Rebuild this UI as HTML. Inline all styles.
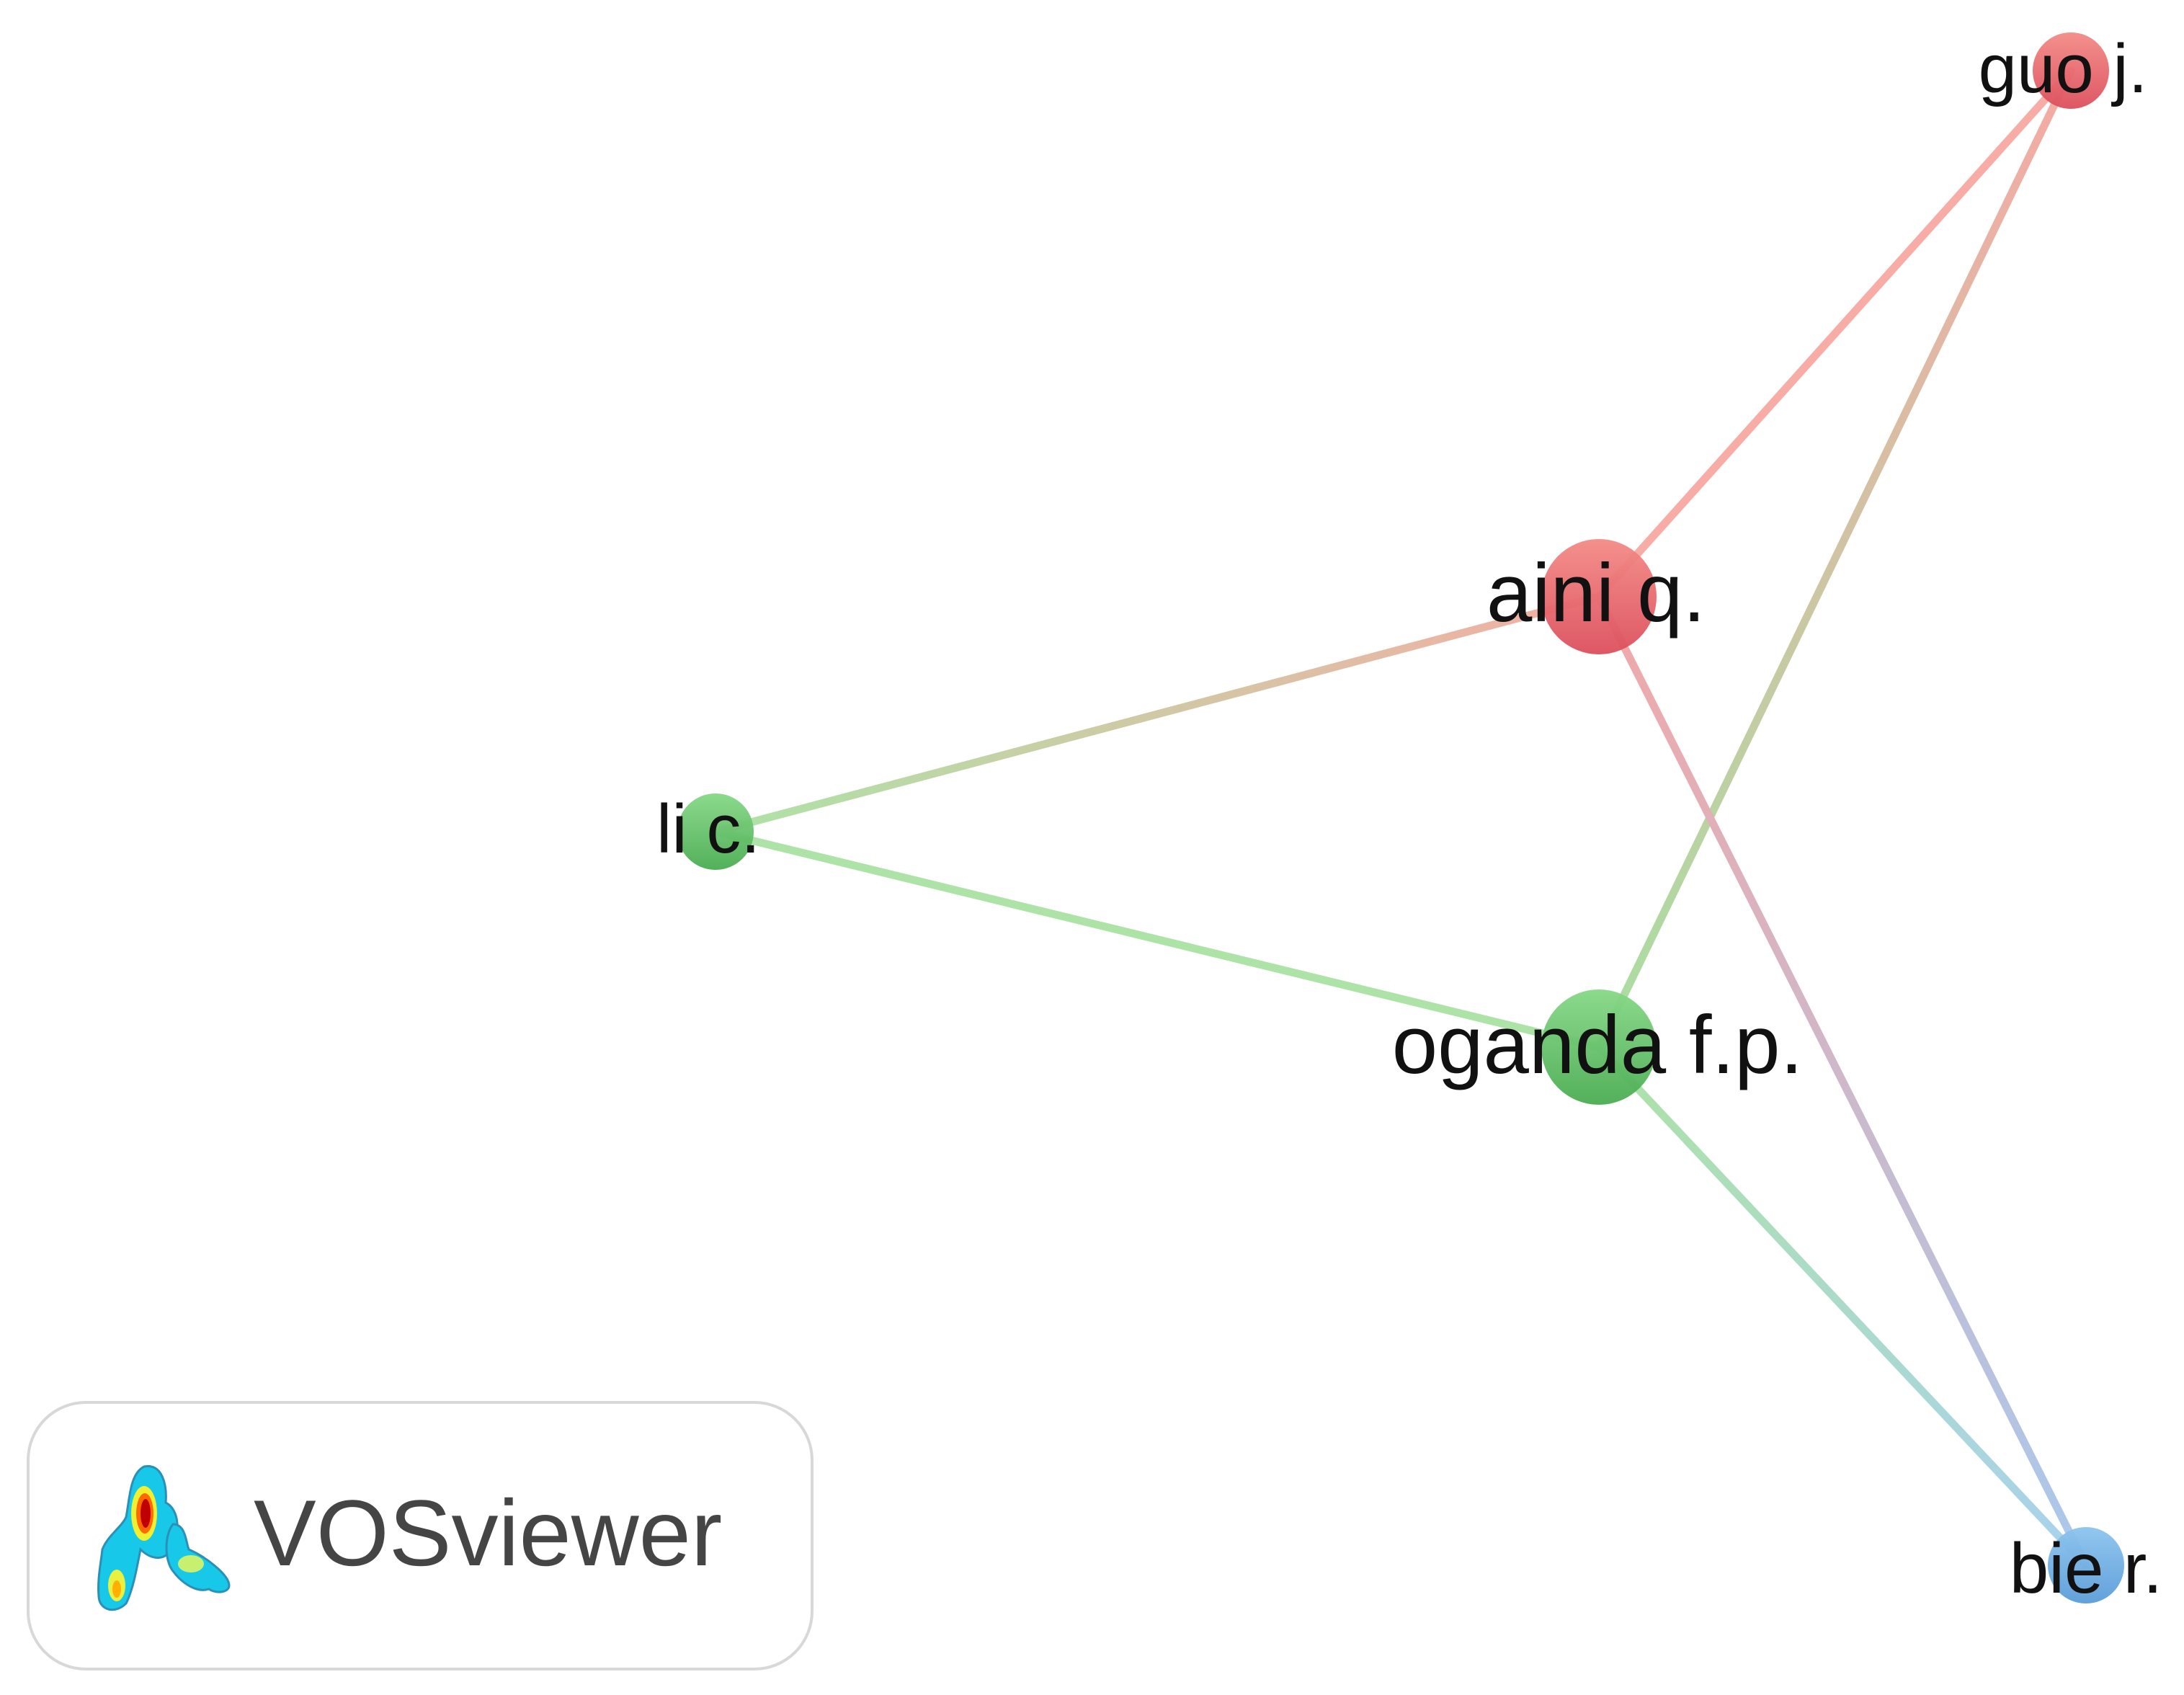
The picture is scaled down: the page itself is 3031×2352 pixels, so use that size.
<!DOCTYPE html>
<html><head><meta charset="utf-8"><style>
html,body{margin:0;padding:0;background:#fff;}
svg{display:block;}
</style></head><body>
<svg width="3031" height="2352" viewBox="0 0 3031 2352" xmlns="http://www.w3.org/2000/svg">
<defs>
<linearGradient id="gRed" x1="0" y1="0" x2="0" y2="1"><stop offset="0" stop-color="#f38a86"/><stop offset="1" stop-color="#dc4f5c"/></linearGradient>
<linearGradient id="gGreen" x1="0" y1="0" x2="0" y2="1"><stop offset="0" stop-color="#86d886"/><stop offset="1" stop-color="#4aac52"/></linearGradient>
<linearGradient id="gBlue" x1="0" y1="0" x2="0" y2="1"><stop offset="0" stop-color="#8cc4ee"/><stop offset="1" stop-color="#5a9cd8"/></linearGradient>
<linearGradient id="e1" gradientUnits="userSpaceOnUse" x1="2874" y1="98" x2="2219" y2="1453"><stop offset="0" stop-color="#f6a9a4"/><stop offset="1" stop-color="#a8dfa2"/></linearGradient>
<linearGradient id="e2" gradientUnits="userSpaceOnUse" x1="2219" y1="828" x2="993" y2="1154"><stop offset="0" stop-color="#f4aea4"/><stop offset="1" stop-color="#ade3a6"/></linearGradient>
<linearGradient id="e3" gradientUnits="userSpaceOnUse" x1="2219" y1="828" x2="2895" y2="2172"><stop offset="0" stop-color="#f2a8a8"/><stop offset="1" stop-color="#a9c9ec"/></linearGradient>
<linearGradient id="e4" gradientUnits="userSpaceOnUse" x1="2219" y1="1453" x2="2895" y2="2172"><stop offset="0" stop-color="#ade3a6"/><stop offset="1" stop-color="#a9d2ee"/></linearGradient>
</defs>
<g stroke-width="11" stroke-linecap="round" fill="none">
<line x1="2874" y1="98" x2="2219" y2="828" stroke="#f7aca6"/>
<line x1="2874" y1="98" x2="2219" y2="1453" stroke="url(#e1)"/>
<line x1="2219" y1="828" x2="993" y2="1154" stroke="url(#e2)"/>
<line x1="993" y1="1154" x2="2219" y2="1453" stroke="#ade3a6"/>
<line x1="2219" y1="828" x2="2895" y2="2172" stroke="url(#e3)"/>
<line x1="2219" y1="1453" x2="2895" y2="2172" stroke="url(#e4)"/>
</g>
<circle cx="2874" cy="98" r="53" fill="url(#gRed)" opacity="0.95"/>
<circle cx="2219" cy="828" r="80" fill="url(#gRed)" opacity="0.95"/>
<circle cx="993" cy="1154" r="53" fill="url(#gGreen)" opacity="0.95"/>
<circle cx="2219" cy="1453" r="80" fill="url(#gGreen)" opacity="0.95"/>
<circle cx="2895" cy="2172" r="53" fill="url(#gBlue)" opacity="0.95"/>
<g font-family="Liberation Sans, Arial, sans-serif" fill="#111" text-anchor="middle">
<text x="2215" y="862" font-size="114">aini q.</text>
<text x="2217" y="1489" font-size="114">oganda f.p.</text>
<text x="2863" y="128" font-size="96">guo j.</text>
<text x="983" y="1183" font-size="96">li c.</text>
<text x="2895" y="2210" font-size="98">bie r.</text>
</g>
<rect x="39" y="1946" width="1088" height="370" rx="80" ry="80" fill="#fff" stroke="#d8d8d8" stroke-width="4"/>
<g>
<path d="M200 2035 C225 2030 232 2060 230 2085 C250 2095 250 2130 238 2150 C225 2170 205 2160 195 2150 C190 2175 185 2205 175 2225 C160 2240 138 2235 137 2215 C135 2190 140 2170 142 2150 C150 2130 168 2120 175 2105 C180 2080 180 2045 200 2035 Z" fill="#18c8e8" stroke="#2a90b8" stroke-width="3"/>
<path d="M240 2115 C258 2115 258 2140 262 2150 C285 2160 318 2185 318 2200 C318 2210 300 2212 290 2205 C275 2210 255 2200 240 2180 C228 2165 228 2130 240 2115 Z" fill="#18c8e8" stroke="#2a90b8" stroke-width="3"/>
<ellipse cx="200" cy="2100" rx="18" ry="38" fill="#f0f030"/>
<ellipse cx="201" cy="2100" rx="12" ry="28" fill="#ff6a00"/>
<ellipse cx="202" cy="2100" rx="7" ry="20" fill="#c00000"/>
<ellipse cx="162" cy="2200" rx="12" ry="22" fill="#e8f040"/>
<ellipse cx="162" cy="2205" rx="6" ry="12" fill="#ffb000"/>
<ellipse cx="265" cy="2170" rx="18" ry="12" fill="#c8f070"/>
</g>
<text x="352" y="2172" font-family="Liberation Sans, Arial, sans-serif" font-size="130" fill="#454545">VOSviewer</text>
</svg>
</body></html>
